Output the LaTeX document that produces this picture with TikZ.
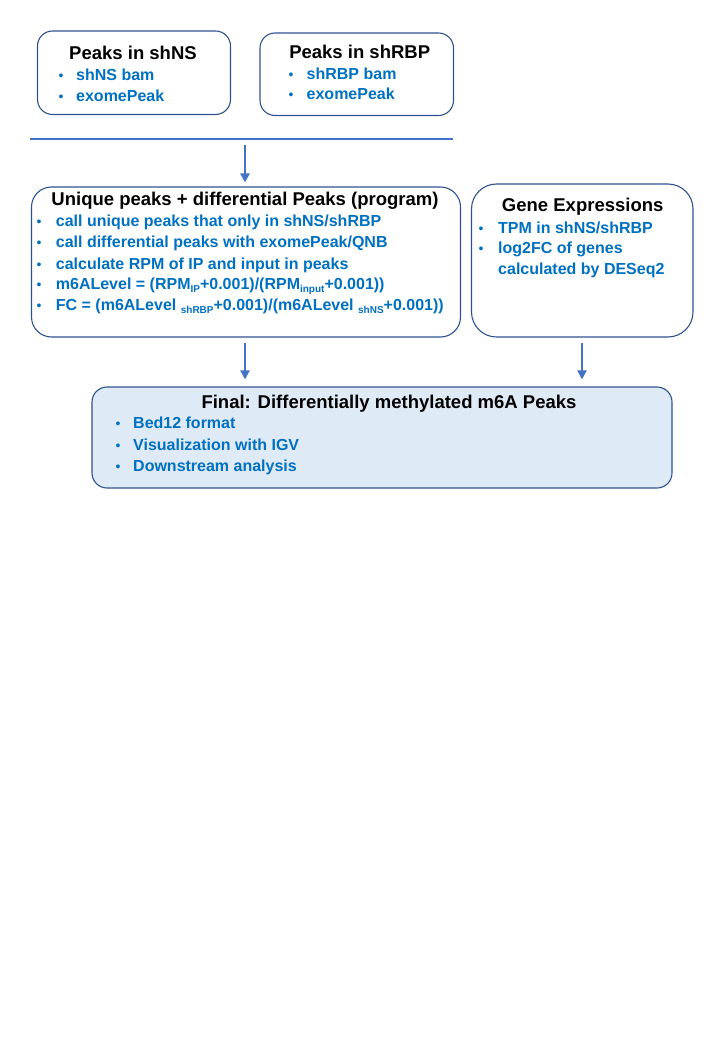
\documentclass[tikz,border=0pt]{standalone}
\usepackage{fontspec}
\setmainfont{Liberation Sans}
\usetikzlibrary{arrows.meta}
\definecolor{bordc}{HTML}{2F528F}
\definecolor{txtb}{HTML}{0070C0}
\definecolor{arrc}{HTML}{4472C4}
\definecolor{finfill}{HTML}{DEEBF7}
\newcommand\lowsub[1]{\raisebox{-0.35ex}{\fontsize{10}{10}\selectfont #1}}
\begin{document}
\begin{tikzpicture}[x=1pt,y=-1pt,
 rbox/.style={draw=bordc, line width=1.1pt, rounded corners=#1, inner sep=0pt},
 ttl/.style={font=\fontsize{18.5}{20}\selectfont\bfseries, text=black, anchor=base, inner sep=0pt},
 itm/.style={font=\fontsize{16}{18}\selectfont\bfseries, text=txtb, anchor=base west, inner sep=0pt},
 bul/.style={font=\fontsize{14}{16}\selectfont, text=txtb, anchor=base, inner sep=0pt},
 arr/.style={draw=arrc, line width=2.2pt, -{Triangle[width=9pt,length=9pt]}},
]
\useasboundingbox (0,0) rectangle (720,1040);

% boxes
\node[rbox=15pt, minimum width=193pt, minimum height=83.5pt] (b1) at (134,72.75) {};
\node[rbox=15pt, minimum width=193.5pt, minimum height=82.5pt] (b2) at (356.75,74.25) {};
\node[rbox=20pt, minimum width=429pt, minimum height=150pt] (u) at (246,262) {};
\node[rbox=25pt, minimum width=221.5pt, minimum height=153pt] (g) at (582.25,260.5) {};
\node[rbox=15pt, fill=finfill, minimum width=580pt, minimum height=101pt] (f) at (382,437.5) {};

% box 1
\node[ttl] (t1) at (133,59.3) {Peaks in shNS};
\node[bul] (b1d1) at (61,80.7) {•};
\node[itm] (b1i1) at (76,80.7) {shNS bam};
\node[bul] (b1d2) at (61,101.7) {•};
\node[itm] (b1i2) at (76,101.7) {exomePeak};

% box 2
\node[ttl] (t2) at (359.7,58.3) {Peaks in shRBP};
\node[bul] (b2d1) at (291,79.3) {•};
\node[itm] (b2i1) at (306.5,79.3) {shRBP bam};
\node[bul] (b2d2) at (291,100) {•};
\node[itm] (b2i2) at (306.5,100) {exomePeak};

% box 3
\node[ttl] (t3) at (245,206) {Unique peaks + differential Peaks (program)};
\node[bul] (ud1) at (39,226.7) {•};
\node[itm] (ui1) at (55.7,226.7) {call unique peaks that only in shNS/shRBP};
\node[bul] (ud2) at (39,247.7) {•};
\node[itm] (ui2) at (55.7,247.7) {call differential peaks with exomePeak/QNB};
\node[bul] (ud3) at (39,269.3) {•};
\node[itm] (ui3) at (55.7,269.3) {calculate RPM of IP and input in peaks};
\node[bul] (ud4) at (39,290) {•};
\node[itm] (ui4) at (55.7,290) {m6ALevel = (RPM\lowsub{IP}+0.001)/(RPM\lowsub{input}+0.001))};
\node[bul] (ud5) at (39,310.7) {•};
\node[itm] (ui5) at (55.7,310.7) {FC = (m6ALevel \lowsub{shRBP}+0.001)/(m6ALevel \lowsub{shNS}+0.001))};

% box 4
\node[ttl] (t4) at (582.7,211.7) {Gene Expressions};
\node[bul] (gd1) at (481,233.3) {•};
\node[itm] (gi1) at (498,233.3) {TPM in shNS/shRBP};
\node[bul] (gd2) at (481,254) {•};
\node[itm] (gi2) at (498,254) {log2FC of genes};
\node[itm] (gi3) at (498,275) {calculated by DESeq2};

% box 5
\node[ttl] (t5) at (389,408.3) {Final: Differentially methylated m6A Peaks};
\node[bul] (fd1) at (118,428.3) {•};
\node[itm] (fi1) at (133,428.3) {Bed12 format};
\node[bul] (fd2) at (118,450) {•};
\node[itm] (fi2) at (133,450) {Visualization with IGV};
\node[bul] (fd3) at (118,471.7) {•};
\node[itm] (fi3) at (133,471.7) {Downstream analysis};

% connectors
\coordinate (hl) at (30,139);
\coordinate (hr) at (453,139);
\draw[draw=arrc, line width=2pt] (hl) -- (hr);
\coordinate (a1) at (245,145);
\coordinate (a2) at (245,0);
\coordinate (a3) at (582,0);
\draw[arr, shorten >=4pt] (a1) -- (u.north -| a1);
\draw[arr, shorten <=5pt, shorten >=7pt] (u.south -| a2) -- (f.north -| a2);
\draw[arr, shorten <=5pt, shorten >=7pt] (g.south -| a3) -- (f.north -| a3);
\end{tikzpicture}
\end{document}
